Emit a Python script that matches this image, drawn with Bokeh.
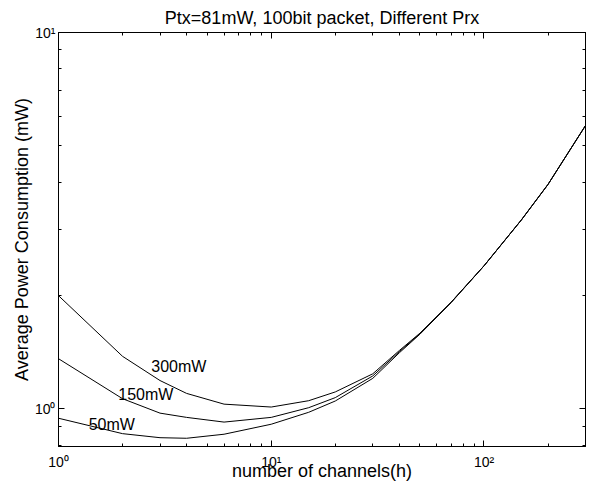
from bokeh.plotting import figure
from bokeh.models import LogAxis, FixedTicker, Label
from bokeh.embed import file_html
from bokeh.resources import INLINE

# ---- data ----
channels = [1, 2, 3, 4, 6, 10, 15, 20, 30, 40, 50, 70, 100, 150, 200, 300]
prx_300mW = [2.00, 1.38, 1.19, 1.10, 1.03, 1.012, 1.052, 1.11, 1.24, 1.43, 1.59, 1.92, 2.40, 3.18, 3.95, 5.66]
prx_150mW = [1.36, 1.065, 0.975, 0.95, 0.923, 0.950, 1.008, 1.072, 1.224, 1.42, 1.585, 1.92, 2.40, 3.18, 3.95, 5.66]
prx_50mW = [0.945, 0.86, 0.839, 0.836, 0.857, 0.911, 0.980, 1.05, 1.206, 1.41, 1.58, 1.915, 2.40, 3.18, 3.95, 5.66]

series_names = ["300mW", "150mW", "50mW"]

x_major = [1, 10, 100]
x_minor = [2, 3, 4, 5, 6, 7, 8, 9, 20, 30, 40, 50, 60, 70, 80, 90, 200, 300]
y_major = [1, 10]
y_minor = [0.8, 0.9, 2, 3, 4, 5, 6, 7, 8, 9]
x_tick_labels = {1: "10⁰", 10: "10¹", 100: "10²"}
y_tick_labels = {1: "10⁰", 10: "10¹"}

FONT = "Liberation Sans"

p = figure(width=595, height=490,
           x_axis_type="log", y_axis_type="log",
           x_range=(1, 300), y_range=(0.795, 10),
           output_backend="svg", toolbar_location=None,
           title="Ptx=81mW, 100bit packet, Different Prx",
           min_border_left=58, min_border_right=10,
           min_border_top=32, min_border_bottom=44)

p.title.text_font = FONT
p.title.text_font_size = "18px"
p.title.text_font_style = "normal"
p.title.text_color = "black"
p.title.align = "center"
p.title.standoff = 10

p.grid.visible = False
p.outline_line_color = "black"
p.outline_line_width = 1
p.background_fill_color = "white"
p.border_fill_color = "white"

for series in (prx_300mW, prx_150mW, prx_50mW):
    p.line(channels, series, line_color="black", line_width=1)

def style_axis(ax, show_labels):
    ax.axis_line_color = "black"
    ax.major_tick_line_color = "black"
    ax.minor_tick_line_color = "black"
    ax.major_tick_in = 6
    ax.major_tick_out = 0
    ax.minor_tick_in = 3
    ax.minor_tick_out = 0
    ax.major_label_text_font = FONT
    if show_labels:
        ax.major_label_text_color = "black"
        ax.major_label_text_font_size = "14px"
        ax.axis_label_text_font = FONT
        ax.axis_label_text_font_size = "18px"
        ax.axis_label_text_font_style = "normal"
        ax.axis_label_text_color = "black"
    else:
        ax.major_label_text_color = None
        ax.major_label_text_font_size = "1px"
        ax.major_label_standoff = 0

xt = FixedTicker(ticks=x_major, minor_ticks=x_minor)
yt = FixedTicker(ticks=y_major, minor_ticks=y_minor)

p.xaxis.ticker = xt
p.yaxis.ticker = yt
p.xaxis.major_label_overrides = x_tick_labels
p.yaxis.major_label_overrides = y_tick_labels
p.xaxis.axis_label = "number of channels(h)"
p.yaxis.axis_label = "Average Power Consumption (mW)"
style_axis(p.xaxis[0], True)
style_axis(p.yaxis[0], True)
p.xaxis.major_label_standoff = 7
p.xaxis.axis_label_standoff = -12
p.yaxis.major_label_standoff = 3
p.yaxis.axis_label_standoff = 0

top_axis = LogAxis(ticker=FixedTicker(ticks=x_major, minor_ticks=x_minor))
right_axis = LogAxis(ticker=FixedTicker(ticks=y_major, minor_ticks=y_minor))
style_axis(top_axis, False)
style_axis(right_axis, False)
p.add_layout(top_axis, "above")
p.add_layout(right_axis, "right")

label_specs = [("300mW", 2.73, 1.293), ("150mW", 1.91, 1.096), ("50mW", 1.387, 0.912)]
for txt, lx, ly in label_specs:
    p.add_layout(Label(x=lx, y=ly, text=txt, text_font=FONT, text_font_size="16px",
                       text_baseline="middle", text_align="left", text_color="black"))

open("out.html", "w").write(file_html(p, INLINE))
